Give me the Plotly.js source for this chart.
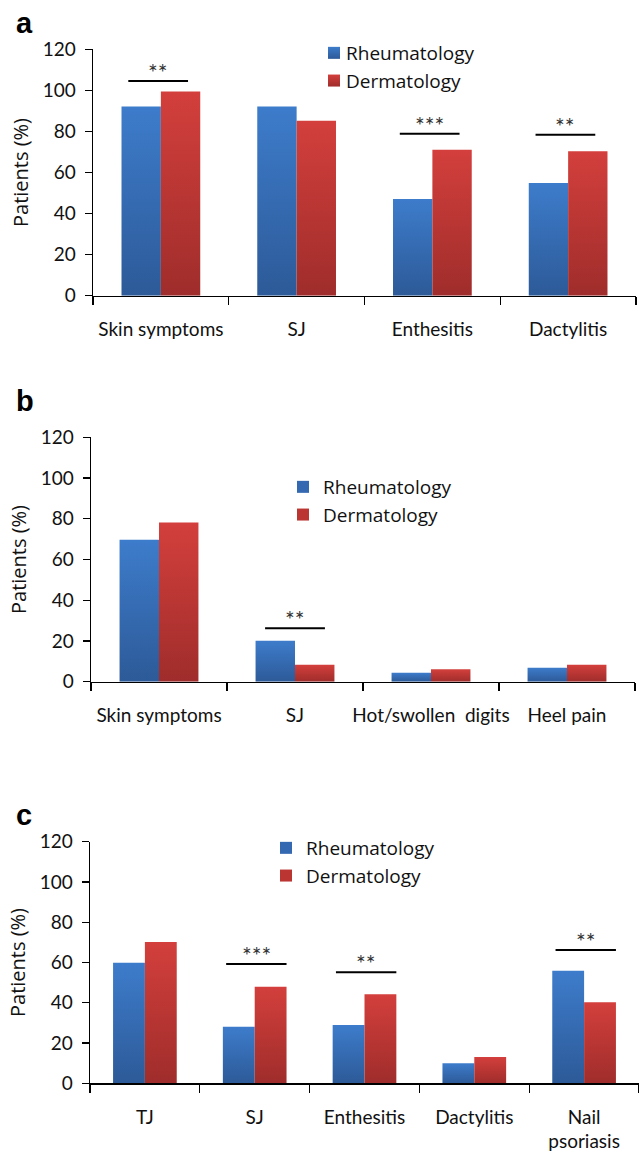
<!DOCTYPE html>
<html>
<head>
<meta charset="utf-8">
<script src="https://cdn.plot.ly/plotly-3.0.1.min.js"></script>
<style>
  html, body { margin: 0; padding: 0; background: #fff; }
  #chart { width: 639px; height: 1155px; }
</style>
</head>
<body>
<div id="chart"></div>
<script>
// ---- data ----
const seriesNames = ['Rheumatology', 'Dermatology'];

const catsA  = ['Skin symptoms', 'SJ', 'Enthesitis', 'Dactylitis'];
const rheumA = [92.2, 92.2, 47.1, 54.9];
const dermA  = [99.5, 85.2, 71.1, 70.3];
const sigCatsA   = ['Skin symptoms', 'Enthesitis', 'Dactylitis'];
const sigLabelsA = ['**', '***', '**'];
const sigLevelsA = [104.6, 78.9, 78.4];

const catsB  = ['Skin symptoms', 'SJ', 'Hot/swollen  digits', 'Heel pain'];
const rheumB = [69.7, 20.1, 4.4, 6.9];
const dermB  = [78.2, 8.3, 6.1, 8.3];
const sigCatsB   = ['SJ'];
const sigLabelsB = ['**'];
const sigLevelsB = [26.2];

const catsC  = ['TJ', 'SJ', 'Enthesitis', 'Dactylitis', 'Nail<br>psoriasis'];
const rheumC = [59.9, 28.1, 29.0, 9.9, 55.9];
const dermC  = [70.2, 48.0, 44.2, 13.1, 40.2];
const sigCatsC   = ['SJ', 'Enthesitis', 'Nail<br>psoriasis'];
const sigLabelsC = ['***', '**', '**'];
const sigLevelsC = [59.2, 55.1, 66.2];

const yTicks = [0, 20, 40, 60, 80, 100, 120];
const panelLetters = ['a', 'b', 'c'];

// ---- styling ----
const FONT = 'Lato, "Open Sans", sans-serif';
const FONT2 = '"Open Sans", Lato, sans-serif';
const BLUE = '#3469b1';
const RED  = '#bb3533';
const W = 639, H = 1155;
const px = v => v / W;
const py = v => (H - v) / H;

const panels = [
  { cats: catsA, r: rheumA, d: dermA, sc: sigCatsA, sl: sigLabelsA, sv: sigLevelsA,
    xd: [px(93), px(636)], yd: [py(295.7), py(49.3)], leg: [px(306), py(34)], lo: -0.24, hi: 0.20, gap: 0.43 },
  { cats: catsB, r: rheumB, d: dermB, sc: sigCatsB, sl: sigLabelsB, sv: sigLevelsB,
    xd: [px(91), px(635)], yd: [py(681.7), py(437.3)], leg: [px(283), py(468)], lo: -0.22, hi: 0.22, gap: 0.43 },
  { cats: catsC, r: rheumC, d: dermC, sc: sigCatsC, sl: sigLabelsC, sv: sigLevelsC,
    xd: [px(90), 1.0], yd: [py(1083.3), py(841.7)], leg: [px(266), py(829)], lo: -0.26, hi: 0.29, gap: 0.42 }
];

const data = [];
const layout = {
  width: W, height: H,
  margin: { l: 0, r: 0, t: 0, b: 0 },
  paper_bgcolor: '#fff', plot_bgcolor: '#fff',
  barmode: 'group',
  font: { family: FONT, color: '#111' },
  shapes: [], annotations: []
};

panels.forEach((p, i) => {
  const sfx = i === 0 ? '' : String(i + 1);
  const xa = 'x' + sfx, ya = 'y' + sfx;
  const legName = 'legend' + sfx;
  data.push({ type: 'bar', name: seriesNames[0], x: p.cats, y: p.r, xaxis: xa, yaxis: ya,
              legend: legName, marker: { color: BLUE }, hoverinfo: 'skip' });
  data.push({ type: 'bar', name: seriesNames[1], x: p.cats, y: p.d, xaxis: xa, yaxis: ya,
              legend: legName, marker: { color: RED }, hoverinfo: 'skip' });

  layout['xaxis' + sfx] = {
    domain: p.xd, anchor: ya, type: 'category', categoryorder: 'array', categoryarray: p.cats,
    showline: true, linecolor: '#000', linewidth: 1.5, showgrid: false, zeroline: false,
    ticks: 'outside', tickson: 'boundaries', ticklen: 8, tickwidth: 1.3, tickcolor: '#000',
    tickangle: 0, ticklabelstandoff: 16, tickfont: { size: 19, family: FONT, color: '#111' },
    automargin: false, fixedrange: true
  };
  layout['yaxis' + sfx] = {
    domain: p.yd, anchor: xa, range: [0, 120], tickvals: yTicks,
    showline: true, linecolor: '#000', linewidth: 1.5, showgrid: false, zeroline: false,
    ticks: 'outside', ticklen: 7, tickwidth: 1.3, tickcolor: '#000',
    ticklabelstandoff: 5, tickfont: { size: 19, family: FONT, color: '#111' },
    title: { text: 'Patients (%)', font: { size: 20, family: FONT2, color: '#111' }, standoff: 8 },
    automargin: false, fixedrange: true
  };
  layout[legName] = {
    x: p.leg[0], y: p.leg[1], xanchor: 'left', yanchor: 'top',
    bgcolor: 'rgba(0,0,0,0)', font: { size: 19, family: FONT2, color: '#111' },
    itemwidth: 30, tracegroupgap: 0, traceorder: 'normal'
  };
  layout.bargap = p.gap;

  // panel letter
  layout.annotations.push({
    xref: 'paper', yref: 'paper', x: px(14), y: py([5, 383, 797][i]),
    xanchor: 'left', yanchor: 'top', showarrow: false, text: '<b>' + panelLetters[i] + '</b>',
    font: { size: 29, family: 'Liberation Sans, Arial, sans-serif', color: '#000' }
  });

  // significance markers
  p.sc.forEach((c, k) => {
    const ci = p.cats.indexOf(c);
    layout.shapes.push({
      type: 'line', xref: xa, yref: ya, x0: ci + p.lo, x1: ci + p.hi, y0: p.sv[k], y1: p.sv[k],
      line: { color: '#000', width: 2 }
    });
    layout.annotations.push({
      xref: xa, yref: ya, x: ci + (p.lo + p.hi) / 2, y: p.sv[k], xanchor: 'center', yanchor: 'bottom',
      yshift: -7, showarrow: false, text: p.sl[k],
      font: { size: 23, family: FONT, color: '#333' }
    });
  });
});

Plotly.newPlot('chart', data, layout, { displayModeBar: false, staticPlot: true }).then(gd => {
  // vertical shading on bars, as in the original figure
  const svg = gd.querySelector('svg.main-svg');
  const ns = 'http://www.w3.org/2000/svg';
  let defs = svg.querySelector('defs');
  if (!defs) { defs = document.createElementNS(ns, 'defs'); svg.insertBefore(defs, svg.firstChild); }
  const mk = (id, top, bot) => {
    const g = document.createElementNS(ns, 'linearGradient');
    g.setAttribute('id', id);
    g.setAttribute('x1', '0'); g.setAttribute('y1', '0'); g.setAttribute('x2', '0'); g.setAttribute('y2', '1');
    [[0, top], [1, bot]].forEach(([o, c]) => {
      const s = document.createElementNS(ns, 'stop');
      s.setAttribute('offset', o); s.setAttribute('stop-color', c);
      g.appendChild(s);
    });
    defs.appendChild(g);
  };
  mk('gradBlue', '#3d7ccb', '#2d5a98');
  mk('gradRed', '#d33f3c', '#9f2d2b');
  gd.querySelectorAll('g.trace.bars').forEach((t, idx) => {
    const fill = idx % 2 === 0 ? 'url(#gradBlue)' : 'url(#gradRed)';
    t.querySelectorAll('path').forEach(pth => { pth.style.fill = fill; });
  });
  gd.querySelectorAll('g.legend g.traces').forEach((t, idx) => {
    const fill = idx % 2 === 0 ? 'url(#gradBlue)' : 'url(#gradRed)';
    t.querySelectorAll('.legendpoints path').forEach(pth => {
      pth.style.fill = fill;
      const tr = pth.getAttribute('transform') || '';
      pth.setAttribute('transform', 'translate(8,0) ' + tr);
    });
  });
});
</script>
</body>
</html>
